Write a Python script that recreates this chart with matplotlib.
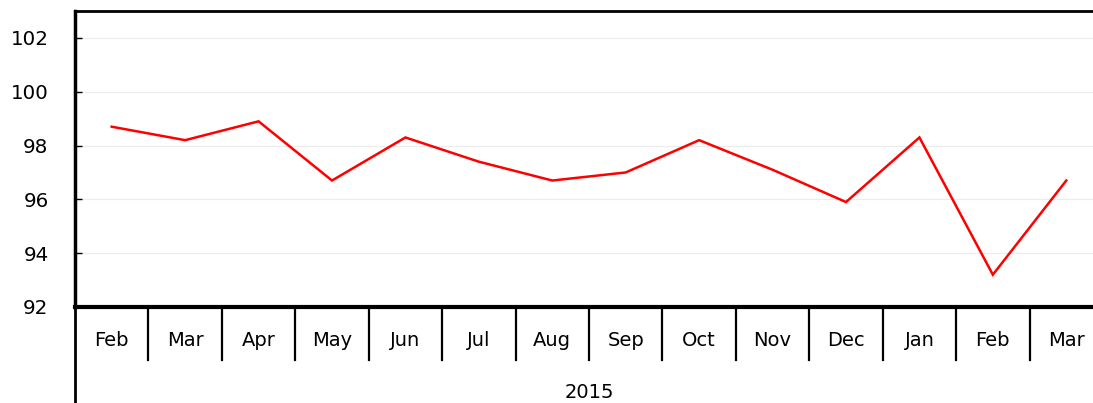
import matplotlib
matplotlib.use("Agg")
import matplotlib.pyplot as plt
import matplotlib.transforms as mtransforms

months = ["Feb", "Mar", "Apr", "May", "Jun", "Jul", "Aug", "Sep", "Oct", "Nov", "Dec", "Jan", "Feb", "Mar"]
values = [98.7, 98.2, 98.9, 96.7, 98.3, 97.4, 96.7, 97.0, 98.2, 97.1, 95.9, 98.3, 93.2, 96.7]
year_label = "2015"
y_ticks = [92, 94, 96, 98, 100, 102]

W, H = 1093, 403
fig = plt.figure(figsize=(W / 100, H / 100), dpi=100)
plt.rcParams["font.family"] = ["DejaVu Sans"]

left, right, top, bottom = 75, 1103, 11, 307
ax = fig.add_axes([left / W, 1 - bottom / H, (right - left) / W, (bottom - top) / H])

n = len(months)
xs = [i + 0.5 for i in range(n)]
ax.plot(xs, values, color="#ff0000", lw=1.8, solid_joinstyle="miter")

ax.set_xlim(0, n)
ax.set_ylim(92, 103)
ax.set_yticks(y_ticks)
ax.set_yticklabels([str(t) for t in y_ticks], fontsize=14.3)
for t in y_ticks[1:]:
    ax.axhline(t, color="#ececec", lw=0.8, zorder=0)
ax.tick_params(axis="y", direction="in", length=5, width=1, pad=19, colors="black")
ax.set_xticks([])

ax.spines["right"].set_visible(False)
ax.spines["left"].set_linewidth(2.5)
ax.spines["bottom"].set_linewidth(3)
ax.spines["top"].set_linewidth(2)

# category axis below the plot
px = 1.0 / (bottom - top)  # one pixel in axes fraction
trans = mtransforms.blended_transform_factory(ax.transData, ax.transAxes)
for i in range(1, n):
    ax.plot([i, i], [0, -53 * px], transform=trans, color="black", lw=1.6, clip_on=False)
for x, m in zip(xs, months):
    ax.text(x, -34 * px, m, transform=trans, ha="center", va="center", fontsize=14)
ax.plot([0, 0], [0, -(H - bottom + 5) * px], transform=trans, color="black", lw=2, clip_on=False)
ax.text(n / 2, -86 * px, year_label, transform=trans, ha="center", va="center", fontsize=14)

fig.savefig("out.png", dpi=100)
